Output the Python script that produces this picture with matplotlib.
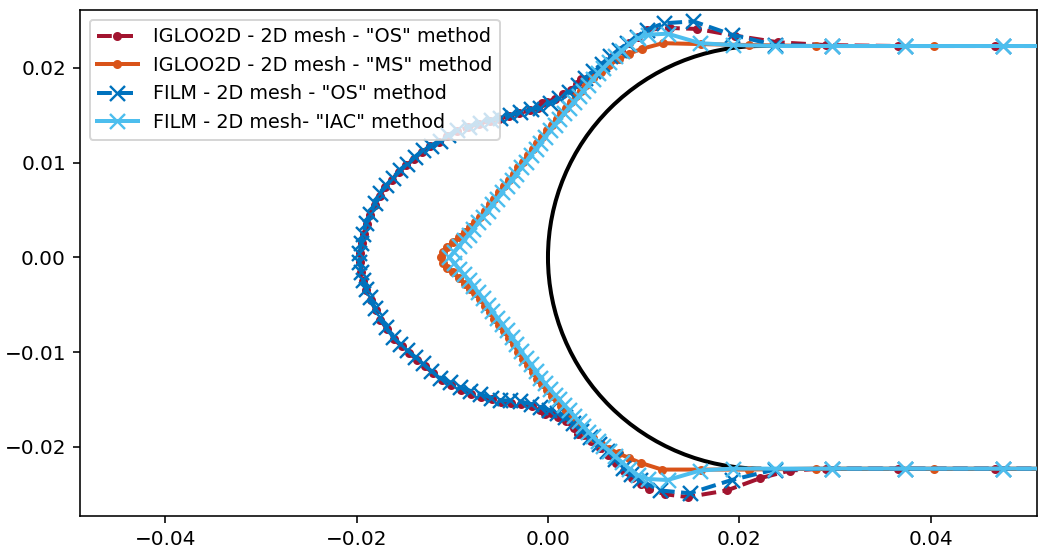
import matplotlib
matplotlib.use("Agg")
import matplotlib.pyplot as plt
from matplotlib.patches import Arc

# ---------------- data (metres) ----------------
body_radius = 0.0223
body_x_end = 0.0600

igloo_os_x = [0.0600, 0.0467, 0.0366, 0.0290, 0.0240, 0.0195, 0.0156, 0.0128, 0.0103, 0.0094,
              0.0085, 0.0076, 0.0067, 0.0058, 0.0049, 0.0040, 0.0034, 0.0030, 0.0024, 0.0016,
              0.0007, -0.0001, -0.0006, -0.0010, -0.0019, -0.0030, -0.0041, -0.0051, -0.0061, -0.0072,
              -0.0084, -0.0095, -0.0105, -0.0114, -0.0123, -0.0132, -0.0140, -0.0148, -0.0156, -0.0163,
              -0.0170, -0.0176, -0.0181, -0.0186, -0.0189, -0.0192, -0.0194, -0.0196,
              -0.0196, -0.0195, -0.0193, -0.0190, -0.0185, -0.0180, -0.0175, -0.0168, -0.0161, -0.0153,
              -0.0145, -0.0137, -0.0129, -0.0120, -0.0111, -0.0101, -0.0091, -0.0080, -0.0070, -0.0059,
              -0.0049, -0.0039, -0.0028, -0.0017, -0.0008, -0.0003, 0.0003, 0.0010, 0.0019, 0.0027,
              0.0031, 0.0037, 0.0045, 0.0054, 0.0063, 0.0071, 0.0079, 0.0088, 0.0097, 0.0106,
              0.0122, 0.0146, 0.0187, 0.0222, 0.0253, 0.0290, 0.0366, 0.0467, 0.0600]
igloo_os_y = [0.0223, 0.0223, 0.0223, 0.0224, 0.0227, 0.0234, 0.0241, 0.0242, 0.0240, 0.0233,
              0.0226, 0.0219, 0.0211, 0.0203, 0.0195, 0.0188, 0.0188, 0.0183, 0.0177, 0.0172,
              0.0167, 0.0164, 0.0163, 0.0158, 0.0155, 0.0152, 0.0149, 0.0146, 0.0144, 0.0141,
              0.0137, 0.0133, 0.0128, 0.0122, 0.0117, 0.0111, 0.0104, 0.0097, 0.0090, 0.0082,
              0.0074, 0.0065, 0.0055, 0.0045, 0.0035, 0.0025, 0.0015, 0.0005,
              -0.0005, -0.0015, -0.0025, -0.0035, -0.0045, -0.0056, -0.0066, -0.0076, -0.0086, -0.0094,
              -0.0101, -0.0108, -0.0115, -0.0122, -0.0129, -0.0135, -0.0140, -0.0144, -0.0147, -0.0150,
              -0.0153, -0.0154, -0.0155, -0.0157, -0.0161, -0.0165, -0.0164, -0.0168, -0.0173, -0.0180,
              -0.0186, -0.0188, -0.0194, -0.0201, -0.0209, -0.0217, -0.0226, -0.0233, -0.0239, -0.0245,
              -0.0250, -0.0253, -0.0246, -0.0233, -0.0225, -0.0223, -0.0223, -0.0223, -0.0223]

igloo_ms_x = [0.0600, 0.0403, 0.0280, 0.0210, 0.0160, 0.0120, 0.0098, 0.0085, 0.0074, 0.0064,
              0.0055, 0.0047, 0.0040, 0.0034, 0.0029, 0.0024, 0.0019, 0.0014, 0.0009, 0.0004,
              -0.0001, -0.0006, -0.0011, -0.0016, -0.0021, -0.0026, -0.0031, -0.0036, -0.0041, -0.0046,
              -0.0051, -0.0056, -0.0061, -0.0066, -0.0071, -0.0076, -0.0081, -0.0087, -0.0093, -0.0099,
              -0.0105, -0.0110, -0.0112,
              -0.0110, -0.0105, -0.0099, -0.0093, -0.0087, -0.0081, -0.0076, -0.0071, -0.0066, -0.0061,
              -0.0056, -0.0051, -0.0046, -0.0041, -0.0036, -0.0031, -0.0026, -0.0021, -0.0016, -0.0011,
              -0.0006, -0.0001, 0.0004, 0.0009, 0.0014, 0.0019, 0.0024, 0.0029, 0.0034, 0.0040,
              0.0047, 0.0055, 0.0064, 0.0074, 0.0085, 0.0097, 0.0119, 0.0160, 0.0210, 0.0280,
              0.0403, 0.0600]
igloo_ms_y = [0.0223, 0.0223, 0.0223, 0.0224, 0.0225, 0.0226, 0.0220, 0.0215, 0.0209, 0.0203,
              0.0196, 0.0189, 0.0182, 0.0176, 0.0170, 0.0164, 0.0158, 0.0152, 0.0146, 0.0140,
              0.0134, 0.0127, 0.0121, 0.0114, 0.0108, 0.0101, 0.0095, 0.0088, 0.0082, 0.0075,
              0.0069, 0.0062, 0.0056, 0.0049, 0.0043, 0.0037, 0.0032, 0.0027, 0.0021, 0.0016,
              0.0011, 0.0006, 0.0000,
              -0.0006, -0.0011, -0.0016, -0.0022, -0.0028, -0.0033, -0.0038, -0.0044, -0.0051, -0.0058,
              -0.0065, -0.0071, -0.0078, -0.0085, -0.0092, -0.0100, -0.0107, -0.0114, -0.0121, -0.0128,
              -0.0134, -0.0140, -0.0146, -0.0151, -0.0157, -0.0162, -0.0168, -0.0174, -0.0179, -0.0185,
              -0.0191, -0.0197, -0.0202, -0.0207, -0.0212, -0.0217, -0.0224, -0.0224, -0.0224, -0.0223,
              -0.0223, -0.0223]

film_os_x = [0.0600, 0.0475, 0.0373, 0.0297, 0.0237, 0.0192, 0.0152, 0.0121, 0.0103, 0.0093,
             0.0083, 0.0074, 0.0065, 0.0056, 0.0047, 0.0039, 0.0031, 0.0022, 0.0012, 0.0002,
             -0.0008, -0.0018, -0.0029, -0.0040, -0.0050, -0.0060, -0.0071, -0.0083, -0.0095, -0.0104,
             -0.0113, -0.0122, -0.0131, -0.0139, -0.0147, -0.0155, -0.0162, -0.0169, -0.0176, -0.0181,
             -0.0186, -0.0190, -0.0193, -0.0195, -0.0197,
             -0.0197, -0.0195, -0.0193, -0.0190, -0.0186, -0.0181, -0.0176, -0.0169, -0.0162, -0.0155,
             -0.0147, -0.0139, -0.0131, -0.0122, -0.0113, -0.0102, -0.0092, -0.0081, -0.0071, -0.0060,
             -0.0050, -0.0040, -0.0029, -0.0018, -0.0008, 0.0001, 0.0009, 0.0018, 0.0026, 0.0035,
             0.0044, 0.0053, 0.0062, 0.0070, 0.0078, 0.0087, 0.0096, 0.0117, 0.0148, 0.0192,
             0.0237, 0.0297, 0.0373, 0.0475, 0.0600]
film_os_y = [0.0223, 0.0223, 0.0223, 0.0223, 0.0224, 0.0235, 0.0249, 0.0247, 0.0240, 0.0233,
             0.0226, 0.0219, 0.0212, 0.0204, 0.0197, 0.0189, 0.0182, 0.0174, 0.0168, 0.0163,
             0.0158, 0.0156, 0.0153, 0.0150, 0.0147, 0.0145, 0.0142, 0.0138, 0.0134, 0.0129,
             0.0123, 0.0118, 0.0113, 0.0106, 0.0099, 0.0092, 0.0084, 0.0076, 0.0068, 0.0057,
             0.0046, 0.0036, 0.0025, 0.0015, 0.0005,
             -0.0005, -0.0015, -0.0024, -0.0033, -0.0042, -0.0053, -0.0063, -0.0074, -0.0084, -0.0091,
             -0.0098, -0.0105, -0.0112, -0.0120, -0.0127, -0.0132, -0.0137, -0.0141, -0.0144, -0.0148,
             -0.0151, -0.0151, -0.0152, -0.0155, -0.0158, -0.0161, -0.0164, -0.0169, -0.0175, -0.0183,
             -0.0190, -0.0197, -0.0204, -0.0213, -0.0222, -0.0229, -0.0235, -0.0246, -0.0249, -0.0235,
             -0.0224, -0.0223, -0.0223, -0.0223, -0.0223]

film_iac_x = [0.0600, 0.0475, 0.0373, 0.0297, 0.0237, 0.0193, 0.0159, 0.0125, 0.0105, 0.0094,
              0.0085, 0.0077, 0.0070, 0.0064, 0.0058, 0.0052, 0.0047, 0.0042, 0.0037, 0.0032,
              0.0027, 0.0022, 0.0017, 0.0012, 0.0007, 0.0002, -0.0003, -0.0008, -0.0013, -0.0018,
              -0.0023, -0.0028, -0.0033, -0.0038, -0.0043, -0.0048, -0.0053, -0.0058, -0.0063, -0.0068,
              -0.0073, -0.0078, -0.0083, -0.0088, -0.0093, -0.0098, -0.0103,
              -0.0098, -0.0093, -0.0088, -0.0083, -0.0078, -0.0073, -0.0068, -0.0063, -0.0058, -0.0053,
              -0.0048, -0.0043, -0.0038, -0.0033, -0.0028, -0.0023, -0.0018, -0.0013, -0.0008, -0.0003,
              0.0002, 0.0007, 0.0012, 0.0017, 0.0022, 0.0027, 0.0032, 0.0037, 0.0042, 0.0047,
              0.0052, 0.0058, 0.0064, 0.0070, 0.0077, 0.0085, 0.0094, 0.0105, 0.0125, 0.0159,
              0.0193, 0.0237, 0.0297, 0.0373, 0.0475, 0.0600]
film_iac_y = [0.0223, 0.0223, 0.0223, 0.0223, 0.0223, 0.0224, 0.0226, 0.0236, 0.0235, 0.0231,
              0.0225, 0.0218, 0.0212, 0.0206, 0.0200, 0.0194, 0.0188, 0.0182, 0.0176, 0.0170,
              0.0164, 0.0158, 0.0152, 0.0146, 0.0140, 0.0134, 0.0127, 0.0121, 0.0114, 0.0108,
              0.0101, 0.0095, 0.0088, 0.0082, 0.0075, 0.0069, 0.0062, 0.0056, 0.0049, 0.0043,
              0.0037, 0.0030, 0.0024, 0.0018, 0.0012, 0.0006, 0.0000,
              -0.0006, -0.0012, -0.0018, -0.0024, -0.0030, -0.0037, -0.0043, -0.0050, -0.0057, -0.0064,
              -0.0070, -0.0077, -0.0084, -0.0091, -0.0099, -0.0106, -0.0113, -0.0120, -0.0127, -0.0133,
              -0.0139, -0.0145, -0.0150, -0.0156, -0.0161, -0.0167, -0.0173, -0.0178, -0.0184, -0.0189,
              -0.0194, -0.0199, -0.0204, -0.0210, -0.0216, -0.0223, -0.0230, -0.0234, -0.0235, -0.0225,
              -0.0223, -0.0223, -0.0223, -0.0223, -0.0223, -0.0223]

labels = ['IGLOO2D - 2D mesh - "OS" method',
          'IGLOO2D - 2D mesh - "MS" method',
          'FILM - 2D mesh - "OS" method',
          'FILM - 2D mesh- "IAC" method']
colors = ['#A2142F', '#D95319', '#0072BD', '#4DBEEE']

x_limits = (-0.0489, 0.0511)
y_limits = (-0.0273, 0.0261)

# ---------------- figure ----------------
fig = plt.figure(figsize=(1038 / 144, 550 / 144), dpi=144)
ax = fig.add_axes([80 / 1038, 34 / 550, 957 / 1038, 506 / 550])

# clean body: semicircle leading edge + flat sides
ax.add_patch(Arc((body_radius, 0.0), 2 * body_radius, 2 * body_radius,
                 theta1=90, theta2=270, color='black', lw=2, zorder=1))
ax.plot([body_radius, body_x_end], [body_radius, body_radius], color='black', lw=2, zorder=1)
ax.plot([body_radius, body_x_end], [-body_radius, -body_radius], color='black', lw=2, zorder=1)

ax.plot(igloo_os_x, igloo_os_y, '--', color=colors[0], lw=2, marker='.', ms=7,
        label=labels[0], zorder=2)
ax.plot(igloo_ms_x, igloo_ms_y, '-', color=colors[1], lw=2, marker='.', ms=7,
        label=labels[1], zorder=3)
ax.plot(film_os_x, film_os_y, '--', color=colors[2], lw=2, marker='x', ms=7.5, mew=1.2,
        label=labels[2], zorder=4)
ax.plot(film_iac_x, film_iac_y, '-', color=colors[3], lw=2, marker='x', ms=7.5, mew=1.2,
        label=labels[3], zorder=5)

ax.set_xlim(*x_limits)
ax.set_ylim(*y_limits)
ax.set_xticks([-0.04, -0.02, 0.0, 0.02, 0.04])
ax.set_yticks([-0.02, -0.01, 0.0, 0.01, 0.02])
ax.legend(loc='upper left', fontsize=9.6, handlelength=2.1)

fig.savefig('out.png', dpi=144)
